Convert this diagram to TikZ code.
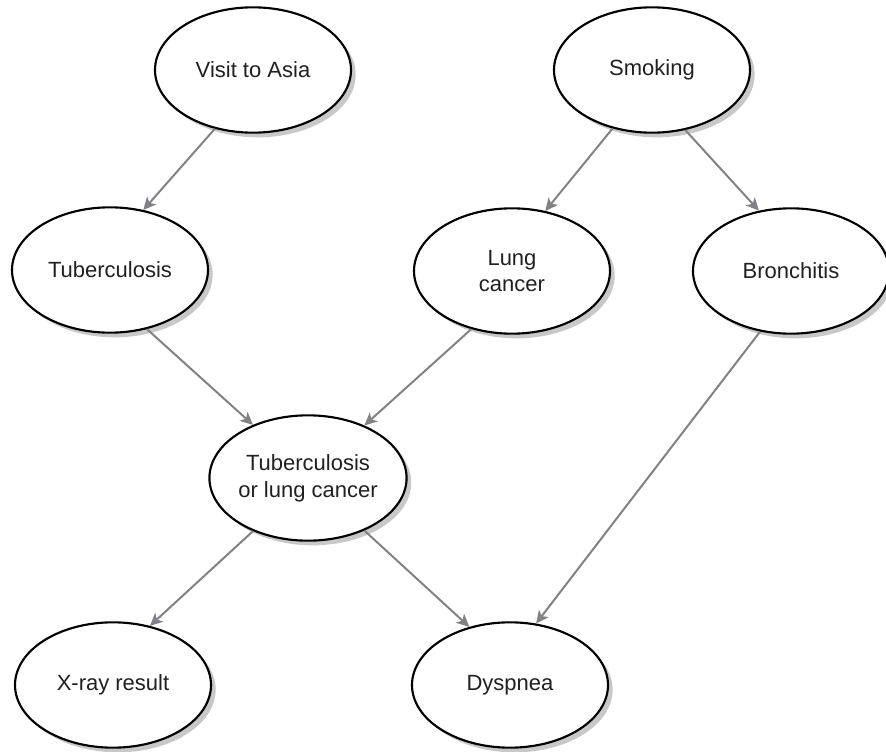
\documentclass[tikz,border=0pt]{standalone}
\usepackage{fontspec}
\setmainfont{Liberation Sans}
\usetikzlibrary{shapes.geometric,shadows,arrows.meta}

\definecolor{edgegray}{HTML}{808285}
\definecolor{shadowgray}{HTML}{C8C8C8}
\definecolor{inkgray}{HTML}{231F20}

\tikzset{
  var/.style={ellipse, draw=black, line width=1.6pt, fill=white,
    minimum width=147pt, minimum height=94pt, inner sep=0pt,
    align=center, text=inkgray, font=\fontsize{16.5}{20}\selectfont,
    drop shadow={shadow xshift=3.5pt, shadow yshift=-3.5pt, fill=shadowgray, opacity=1}},
  link/.style={draw=edgegray, line width=1.5pt,
    -{Stealth[length=9.5pt,width=9pt,inset=2.5pt]}}
}

\begin{document}
\begin{tikzpicture}[x=0.75pt,y=-0.75pt]
  \useasboundingbox (0,0) rectangle (886,752);

  % variables of the network
  \node[var] (asia)  at (253,70)  {Visit to Asia};
  \node[var] (smoke) at (652,70)  {Smoking};
  \node[var] (tub)   at (110,270) {Tuberculosis};
  \node[var] (lung)  at (512,271) {Lung\\cancer};
  \node[var] (bron)  at (791,271) {Bronchitis};
  \node[var] (either) at (308,478) {Tuberculosis\\or lung cancer};
  \node[var] (xray)  at (113,685) {X-ray result};
  \node[var] (dysp)  at (510,685) {Dyspnea};

  % causal links, leaving and entering at fixed border angles
  \draw[link] (asia.237)   -- (tub.61);
  \draw[link] (smoke.236)  -- (lung.61);
  \draw[link] (smoke.299)  -- (bron.118);
  \draw[link] (tub.302)    -- (either.136);
  \draw[link] (lung.235)   -- (either.43);
  \draw[link] (either.224) -- (xray.58);
  \draw[link] (either.317) -- (dysp.125);
  \draw[link] (bron.243)   -- (dysp.67);
\end{tikzpicture}
\end{document}
